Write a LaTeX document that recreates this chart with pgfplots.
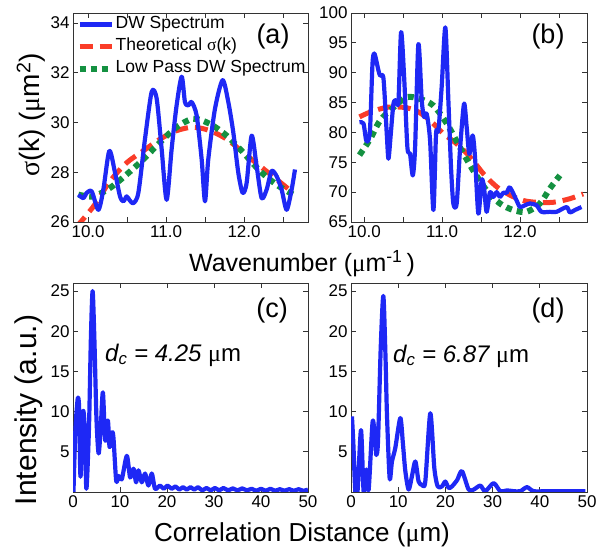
\documentclass[border=0pt]{standalone}
\usepackage{fontspec}
\setmainfont{Liberation Sans}
\newfontfamily\grk{Liberation Serif}
\usepackage{pgfplots}
\pgfplotsset{compat=1.18}
\definecolor{dwblue}{RGB}{30,40,245}
\definecolor{dwred}{RGB}{250,60,40}
\definecolor{dwgreen}{RGB}{20,145,65}
\newcommand{\fs}[1]{\fontsize{#1bp}{#1bp}\selectfont}
\pgfplotsset{
  panel/.style={
    scale only axis, anchor=south west,
    width=235bp, height=209bp,
    axis line style={line width=0.8bp, black!80},
    tick style={line width=0.8bp, black!80},
    major tick length=5bp, minor tick length=5bp,
    tick align=inside,
    ticklabel style={font=\fs{17}},
  },
  bl/.style={color=dwblue, line width=4.2bp, line join=round, smooth, tension=0.45},
  rd/.style={color=dwred, line width=5bp, dash pattern=on 13bp off 7bp, smooth},
  gr/.style={color=dwgreen, line width=6bp, dash pattern=on 6bp off 5bp, smooth},
}
\begin{document}
\begin{tikzpicture}
\useasboundingbox (0,0) rectangle (604bp,558bp);
% ---------------- (a)
\begin{axis}[panel, at={(73bp,336bp)},
  xmin=9.806, xmax=12.82, ymin=26, ymax=34.4,
  xtick={10,11,12}, xticklabels={10.0,11.0,12.0},
  minor xtick={10.5,11.5,12.5},
  ytick={26,28,30,32,34}, yticklabels={26,28,30,32,34},
  legend style={at={(0.015,0.99)}, anchor=north west, draw=none, fill=none,
    inner sep=0pt, font=\fs{17.5}, row sep=3.5bp,
    nodes={inner sep=1bp, text height=12.5bp, text depth=4bp}},
  legend cell align=left,
  legend image code/.code={\draw[#1] (0bp,0bp) -- (32bp,0bp);},
]
\addlegendimage{bl}
\addlegendimage{rd}
\addlegendimage{gr}
\addplot[rd, forget plot] coordinates {(9.85,25.8) (10.067,26.62) (10.281,27.64) (10.494,28.38) (10.708,28.86) (10.922,29.33) (11.135,29.67) (11.349,29.81) (11.563,29.67) (11.777,29.33) (11.990,28.79) (12.204,28.25) (12.418,27.71) (12.631,27.17)};
\addplot[gr, forget plot] coordinates {(9.875,27.10) (10.067,27.03) (10.281,27.37) (10.494,27.91) (10.708,28.52) (10.922,29.20) (11.135,29.81) (11.349,30.15) (11.563,29.94) (11.777,29.47) (11.990,28.79) (12.204,28.05) (12.418,27.50) (12.631,27.10)};
\addplot[bl, forget plot] coordinates {(9.875,27.10) (9.939,26.96) (9.982,27.17) (10.046,27.23) (10.131,26.49) (10.195,27.30) (10.272,28.86) (10.345,27.98) (10.409,27.03) (10.452,26.83) (10.494,27.03) (10.529,26.89) (10.580,26.76) (10.644,27.17) (10.729,29.33) (10.815,31.23) (10.879,30.96) (10.943,28.93) (11.007,26.89) (11.071,28.93) (11.135,30.69) (11.200,31.84) (11.242,30.82) (11.285,30.69) (11.328,30.82) (11.392,30.28) (11.456,28.52) (11.499,26.83) (11.541,28.52) (11.627,30.55) (11.725,31.70) (11.798,30.82) (11.862,29.60) (11.926,27.98) (11.982,27.17) (12.033,27.57) (12.097,29.47) (12.161,28.25) (12.225,26.96) (12.289,27.30) (12.353,28.05) (12.418,27.84) (12.482,27.30) (12.546,26.49) (12.610,27.30) (12.653,28.11)};
\legend{DW Spectrum, Theoretical {\grk σ}(k), Low Pass DW Spectrum}
\end{axis}
% ---------------- (b)
\begin{axis}[panel, at={(351bp,336bp)}, width=236bp,
  xmin=9.83, xmax=12.86, ymin=65, ymax=100,
  xtick={10,11,12}, xticklabels={10.0,11.0,12.0},
  minor xtick={10.5,11.5,12.5},
  ytick={65,70,75,80,85,90,95,100}, yticklabels={65,70,75,80,85,90,95,100},
]
\addplot[rd] coordinates {(9.939,82.6) (10.076,83.4) (10.289,84.2) (10.503,84.2) (10.674,83.6) (10.845,82.0) (11.016,79.8) (11.187,78.1) (11.358,75.9) (11.529,73.1) (11.700,70.9) (11.871,69.5) (12.041,68.6) (12.212,68.3) (12.426,68.3) (12.640,68.9) (12.811,69.7)};
\addplot[gr] coordinates {(9.939,76.2) (10.076,78.9) (10.204,82.0) (10.375,84.2) (10.546,85.9) (10.717,85.6) (10.888,84.5) (11.059,81.5) (11.229,77.5) (11.400,73.6) (11.571,70.3) (11.742,68.1) (11.913,67.0) (12.084,66.7) (12.255,68.1) (12.383,70.6) (12.512,72.8)};
\addplot[bl] coordinates {(9.939,81.7) (9.990,81.5) (10.024,78.7) (10.054,78.7) (10.076,80.9) (10.106,91.5) (10.131,93.2) (10.182,90.4) (10.204,89.5) (10.247,89.0) (10.289,79.8) (10.311,75.6) (10.341,79.8) (10.375,84.8) (10.409,85.4) (10.439,85.1) (10.473,96.8) (10.512,89.3) (10.554,77.5) (10.588,76.4) (10.623,72.8) (10.653,77.5) (10.695,94.8) (10.738,85.4) (10.768,82.6) (10.802,83.1) (10.845,78.7) (10.888,67.0) (10.922,79.8) (10.952,80.3) (10.994,87.6) (11.041,97.6) (11.080,85.4) (11.114,74.2) (11.144,68.1) (11.187,68.1) (11.229,77.0) (11.281,84.8) (11.315,80.9) (11.349,76.4) (11.392,79.5) (11.422,75.9) (11.465,66.4) (11.507,72.0) (11.537,70.9) (11.571,66.7) (11.614,70.0) (11.657,69.2) (11.700,70.0) (11.742,69.2) (11.785,69.9) (11.829,69.9) (11.870,70.8) (11.956,68.6) (11.999,67.5) (12.063,67.8) (12.127,68.1) (12.212,67.8) (12.276,66.7) (12.383,66.7) (12.469,66.7) (12.597,67.5) (12.640,66.6) (12.704,67.0) (12.789,67.5)};
\end{axis}
% ---------------- (c)
\begin{axis}[panel, at={(73bp,66bp)},
  xmin=0, xmax=50, ymin=0, ymax=26,
  xtick={0,10,20,30,40,50}, xticklabels={0,10,20,30,40,50},
  ytick={5,10,15,20,25}, yticklabels={5,10,15,20,25},
]
\addplot[bl] coordinates {(0.1,0) (0.5,7.6) (1.0,11.6) (1.3,10.5) (1.6,1.9) (2.1,9.9) (2.5,8.0) (2.85,0.4) (3.4,8) (3.8,19) (4.17,25.0) (4.55,19) (5.0,9) (5.45,4.8) (5.9,8) (6.36,12.4) (6.86,6.4) (7.42,8.9) (7.78,5.6) (8.27,7.4) (8.6,6.8) (9.19,1.4) (9.69,2.0) (10.39,1.6) (11.45,4.5) (12.16,1.8) (12.87,2.9) (13.43,1.2) (13.93,2.7) (14.63,1.2) (15.34,2.3) (16.05,0.8) (16.76,2.3) (17.46,0.4) (18.52,0.8) (19.3,0.4) (20.1,0.8) (21.0,0.4) (21.8,0.7) (22.6,0.3) (23.4,0.6) (24.2,0.3) (25.0,0.6) (25.8,0.3) (26.6,0.6) (27.5,0.2) (28.4,0.5) (29.3,0.2) (30.2,0.5) (31.1,0.2) (32.0,0.5) (33.0,0.2) (34.0,0.45) (35.0,0.2) (36.0,0.45) (37.0,0.2) (38.0,0.4) (39.0,0.15) (40.0,0.4) (41.0,0.15) (42.0,0.4) (43.0,0.15) (44.0,0.35) (45.0,0.15) (46.0,0.35) (47.0,0.15) (48.0,0.35) (49.0,0.15) (50.0,0.3)};
\end{axis}
% ---------------- (d)
\begin{axis}[panel, at={(351bp,66bp)}, width=236bp,
  xmin=0, xmax=50, ymin=0, ymax=26,
  xtick={0,10,20,30,40,50}, xticklabels={0,10,20,30,40,50},
  ytick={5,10,15,20,25}, yticklabels={5,10,15,20,25},
]
\addplot[bl] coordinates {(0.2,9.4) (0.5,6) (0.92,0) (1.41,0.3) (2.12,7.7) (2.68,0) (3.25,2.8) (3.74,0.3) (4.59,8.8) (5.15,6) (5.37,4.6) (5.72,6.3) (6.3,18) (6.85,24.4) (7.3,17) (7.62,9.6) (8.19,1.7) (8.68,3.8) (9.39,5.5) (10.45,9.2) (11.0,6) (11.51,2.6) (12.21,0.3) (12.92,2.0) (13.63,3.8) (14.33,1.3) (15.04,0.9) (15.74,1.3) (16.80,9.8) (17.65,3.0) (18.36,0.7) (19.27,0.7) (19.98,1.3) (20.69,0.5) (21.39,0.7) (22.5,1.5) (23.51,2.6) (24.92,0.3) (25.98,0.3) (27.39,0.8) (28.45,0.1) (30.22,1.1) (31.63,0.1) (33.04,0.2) (34.45,0.1) (35.86,0.1) (37.28,0.6) (38.69,0.1) (41.51,0.1) (45.75,0.1) (49.63,0.1)};
\end{axis}
% ---------------- texts
\node[rotate=90, font=\fs{28}] at (31bp,443bp) {{\grk σ}(k) ({\grk μ}m\textsuperscript{2})};
\node[rotate=90, font=\fs{30}] at (29bp,148bp) {Intensity (a.u.)};
\node[font=\fs{25}] at (302bp,294bp) {Wavenumber ({\grk μ}m\textsuperscript{-1}\,)};
\node[font=\fs{26}] at (302bp,23bp) {Correlation Distance ({\grk μ}m)};
\node[font=\fs{27}] at (273bp,521bp) {(a)};
\node[font=\fs{27}] at (548bp,521bp) {(b)};
\node[font=\fs{27}] at (272bp,247bp) {(c)};
\node[font=\fs{27}] at (548bp,247bp) {(d)};
\node[font=\fs{24}, anchor=west, inner sep=0pt] at (105bp,203bp) {\itshape d\textsubscript{c} = 4.25 \upshape{\grk μ}m};
\node[font=\fs{24}, anchor=west, inner sep=0pt] at (393bp,202bp) {\itshape d\textsubscript{c} = 6.87 \upshape{\grk μ}m};
\end{tikzpicture}
\end{document}
